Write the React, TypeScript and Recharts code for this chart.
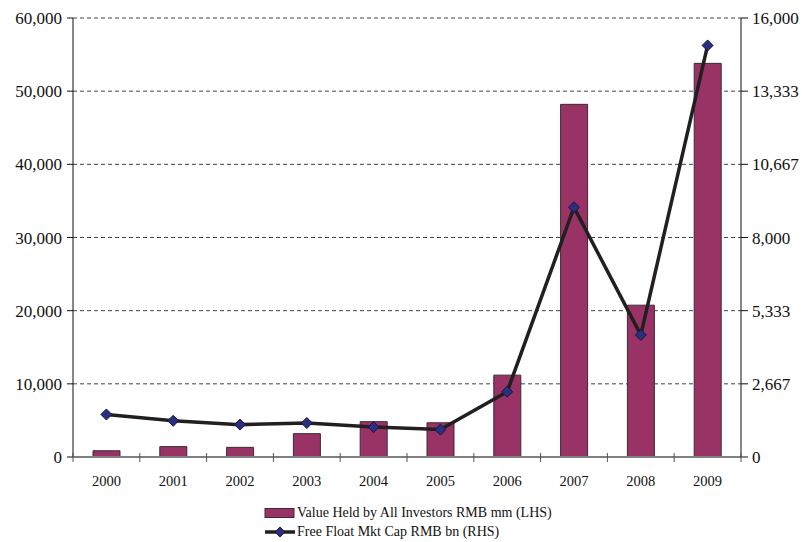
import React from 'react';
import {
  ComposedChart,
  Bar,
  Line,
  XAxis,
  YAxis,
  CartesianGrid,
} from 'recharts';

const years = ['2000', '2001', '2002', '2003', '2004', '2005', '2006', '2007', '2008', '2009'];
const valueHeld = [850, 1420, 1320, 3190, 4830, 4680, 11190, 48200, 20750, 53800];
const freeFloat = [1550, 1320, 1180, 1240, 1090, 1000, 2380, 9100, 4450, 15000];

const lhsTicks = [0, 10000, 20000, 30000, 40000, 50000, 60000];
const rhsTicks = [0, 2666.667, 5333.333, 8000, 10666.667, 13333.333, 16000];

const barName = 'Value Held by All Investors RMB mm (LHS)';
const lineName = 'Free Float Mkt Cap RMB bn (RHS)';

const data = years.map((year, i) => ({
  year,
  held: valueHeld[i],
  float: freeFloat[i],
}));

const FONT = '"Liberation Serif", "Times New Roman", serif';
const BAND = 66.8;

const fmt = (v: number) => Math.round(v).toLocaleString('en-US');

const YearTick = (props: any) => {
  const { x, y, payload, index } = props;
  return (
    <g>
      {index === 0 && (
        <line x1={x - BAND / 2} x2={x - BAND / 2} y1={y - 4} y2={y + 5} stroke="#555" />
      )}
      <line x1={x + BAND / 2} x2={x + BAND / 2} y1={y - 4} y2={y + 5} stroke="#555" />
      <text x={x} y={y + 29} textAnchor="middle" fontSize={14.5} fill="#111" fontFamily={FONT}>
        {payload.value}
      </text>
    </g>
  );
};

const Diamond = (props: any) => {
  const { cx, cy } = props;
  if (cx == null || cy == null) return null;
  const r = 5.5;
  return (
    <polygon
      points={`${cx},${cy - r} ${cx + r},${cy} ${cx},${cy + r} ${cx - r},${cy}`}
      fill="#2b2f7f"
      stroke="#15173d"
      strokeWidth={1}
    />
  );
};

export default function App() {
  return (
    <div style={{ position: 'absolute', left: 0, top: 0, width: 802, height: 542, background: '#fff' }}>
      <ComposedChart
        width={802}
        height={542}
        data={data}
        margin={{ top: 18, right: 0, bottom: 0, left: 0 }}
      >
        <CartesianGrid
          yAxisId="left"
          vertical={false}
          stroke="#444"
          strokeDasharray="4 3"
        />
        <XAxis
          dataKey="year"
          height={85}
          tickSize={0}
          tickMargin={0}
          tickLine={false}
          tick={<YearTick />}
          axisLine={{ stroke: '#808080', strokeWidth: 2 }}
          interval={0}
        />
        <YAxis
          yAxisId="left"
          width={73}
          domain={[0, 60000]}
          ticks={lhsTicks}
          tickFormatter={fmt}
          tickSize={6}
          tickMargin={5}
          axisLine={{ stroke: '#111' }}
          tickLine={{ stroke: '#111' }}
          tick={{ fontSize: 17, fill: '#111', fontFamily: FONT }}
        />
        <YAxis
          yAxisId="right"
          orientation="right"
          width={61}
          domain={[0, 16000]}
          ticks={rhsTicks}
          tickFormatter={fmt}
          tickSize={7}
          tickMargin={4}
          axisLine={{ stroke: '#111' }}
          tickLine={{ stroke: '#111' }}
          tick={{ fontSize: 17, fill: '#111', fontFamily: FONT }}
        />
        <Bar
          yAxisId="left"
          dataKey="held"
          name={barName}
          fill="#993366"
          stroke="#3a2a33"
          strokeWidth={1}
          barSize={27}
          isAnimationActive={false}
        />
        <Line
          yAxisId="right"
          dataKey="float"
          name={lineName}
          type="linear"
          stroke="#231f20"
          strokeWidth={3.5}
          dot={<Diamond />}
          activeDot={false}
          isAnimationActive={false}
        />
      </ComposedChart>
      <div
        style={{
          position: 'absolute',
          left: 264,
          top: 503,
          fontFamily: FONT,
          fontSize: 14,
          color: '#111',
          lineHeight: '19px',
        }}
      >
        <div style={{ display: 'flex', alignItems: 'center' }}>
          <svg width={32} height={12} style={{ marginRight: 1 }}>
            <rect x={1} y={1.5} width={29} height={9} fill="#993366" stroke="#3a2a33" strokeWidth={1} />
          </svg>
          <span>{barName}</span>
        </div>
        <div style={{ display: 'flex', alignItems: 'center' }}>
          <svg width={32} height={12} style={{ marginRight: 1 }}>
            <line x1={1} x2={31} y1={6} y2={6} stroke="#231f20" strokeWidth={3.5} />
            <polygon points="16,1 21,6 16,11 11,6" fill="#2b2f7f" stroke="#15173d" />
          </svg>
          <span>{lineName}</span>
        </div>
      </div>
    </div>
  );
}
